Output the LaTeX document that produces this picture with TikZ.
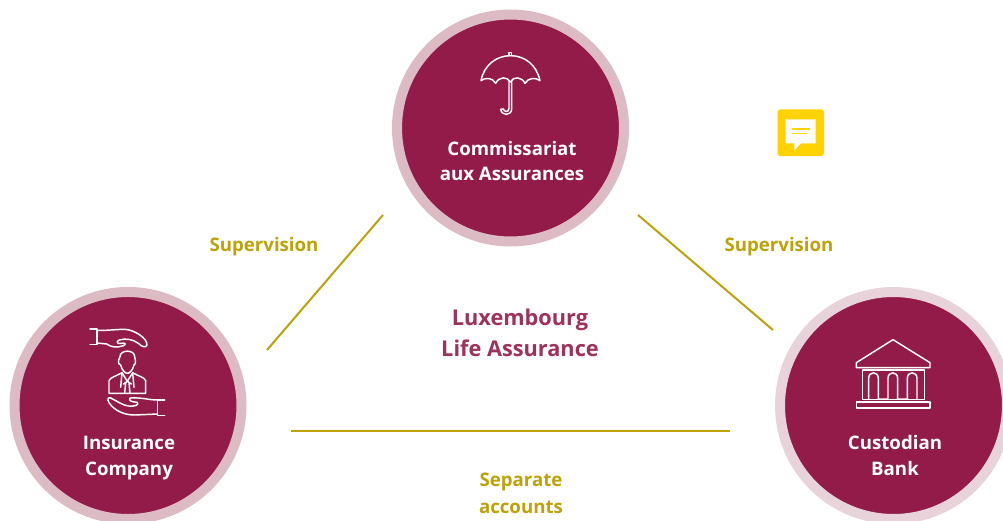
\documentclass[tikz,border=0pt]{standalone}
\usepackage{fontspec}
\setmainfont{Open Sans}
\definecolor{wine}{HTML}{931B4A}
\definecolor{ringa}{HTML}{DDBBC5}
\definecolor{ringb}{HTML}{E9D3DA}
\definecolor{gold}{HTML}{BDA308}
\definecolor{notey}{HTML}{FFD200}
\tikzset{
  disc/.style={circle,fill=wine,draw=#1,line width=7.5pt,minimum size=170.25pt,inner sep=0pt},
  link/.style={draw=gold,line width=1.5pt},
  goldtext/.style={text=gold,font=\fontsize{14}{20}\selectfont\bfseries,align=center},
  disctext/.style={text=white,font=\fontsize{14}{19}\selectfont\bfseries,align=center},
  titletext/.style={text=wine!90!white,font=\fontsize{16.3}{23}\selectfont\bfseries,align=center},
  icon/.style={draw=white,line width=1.1pt,line join=round,line cap=round,fill=none},
}
\begin{document}
\begin{tikzpicture}[x=0.75pt,y=-0.75pt]
\useasboundingbox (0,0) rectangle (1003,521);
\clip (0,0) rectangle (1003,521);
\fill[white] (0,0) rectangle (1003,521);
% discs
\node[disc=ringa] (top) at (510.5,128) {};
\node[disc=ringa] (left) at (128,405.5) {};
\node[disc=ringb] (right) at (893.5,405.5) {};
% connectors
\coordinate (a1) at (383,215); \coordinate (a2) at (267,350);
\coordinate (b1) at (638,215); \coordinate (b2) at (773,330);
\coordinate (c1) at (291,431); \coordinate (c2) at (730,431);
\draw[link] (a1) -- (a2);
\draw[link] (b1) -- (b2);
\draw[link] (c1) -- (c2);
% labels
\node[disctext] (toplabel) at (512,161) {Commissariat\\aux Assurances};
\node[disctext] (leftlabel) at (129,458) {Insurance\\Company};
\node[disctext] (rightlabel) at (895,455.5) {Custodian\\Bank};
\node[goldtext] (sup1) at (264,247) {Supervision};
\node[goldtext] (sup2) at (779,247) {Supervision};
\node[goldtext] (sep) at (521,493.5) {Separate\\accounts};
\node[titletext] (title) at (520,333) {Luxembourg\\Life Assurance};
% note icon
\begin{scope}[shift={(765,100)},x=0.25pt,y=-0.25pt]
\fill[notey,rounded corners=2pt] (38,28) rectangle (177,168);
\fill[white] (62,58) -- (152,58) -- (152,130) -- (108,130) -- (88,151) -- (88,130) -- (62,130) -- cycle;
\draw[notey,line width=.9pt] (80,87) -- (134,87) (80,100) -- (126,100);
\end{scope}
% umbrella icon
\begin{scope}[shift={(460,40)},x=0.25pt,y=-0.25pt]
\draw[icon] (63,122) .. controls (72,75) and (110,47) .. (151,47) .. controls (195,47) and (230,75) .. (240,122)
  .. controls (228,112) and (205,112) .. (195,130) .. controls (186,110) and (160,108) .. (151,126)
  .. controls (142,108) and (116,110) .. (107,130) .. controls (98,112) and (75,112) .. (63,122) -- cycle;
\draw[icon] (147,46) -- (147,37) -- (155,37) -- (155,46);
\draw[icon] (147,124) -- (147,205) .. controls (147,217) and (132,217) .. (130,207);
\draw[icon] (155,124) -- (155,208) .. controls (153,228) and (125,228) .. (122,208) -- (130,207);
\end{scope}
% person and hands icon
\begin{scope}[shift={(60,310)},x=0.25pt,y=-0.25pt]
% upper hand
\draw[icon] (90,57) -- (111,57) -- (111,103) -- (90,103);
\draw[icon] (111,61) .. controls (145,62) and (165,58) .. (195,58) .. controls (225,60) and (262,85) .. (261,105)
  .. controls (258,115) and (245,110) .. (235,100) .. controls (220,88) and (195,84) .. (178,90)
  .. controls (168,94) and (170,102) .. (182,100) .. controls (197,98) and (200,102) .. (190,107)
  .. controls (170,114) and (155,112) .. (140,102) -- (111,99);
% lower hand
\draw[icon] (314,270) -- (293,270) -- (293,316) -- (314,316);
\draw[icon] (293,270) .. controls (265,270) and (250,262) .. (210,264) .. controls (205,272) and (215,276) .. (232,277)
  .. controls (238,285) and (225,290) .. (205,288) .. controls (185,285) and (170,272) .. (150,263)
  .. controls (140,262) and (142,275) .. (155,288) .. controls (175,308) and (200,315) .. (225,315) -- (293,312);
% head
\draw[icon] (180,140) .. controls (180,118) and (224,118) .. (224,140) -- (226,150) .. controls (228,160) and (224,165) .. (222,165)
  .. controls (218,182) and (208,190) .. (202,190) .. controls (196,190) and (186,182) .. (182,165)
  .. controls (178,165) and (174,160) .. (176,150) -- cycle;
% body
\draw[icon] (147,250) -- (147,212) .. controls (150,202) and (170,198) .. (186,188) -- (202,214) -- (218,188)
  .. controls (234,198) and (254,202) .. (257,212) -- (257,250) -- cycle;
\draw[icon] (186,188) -- (182,232) (218,188) -- (222,232);
\draw[icon] (197,218) -- (194,250) (207,218) -- (210,250) (190,222) -- (202,214) -- (214,222);
\end{scope}
% bank icon
\begin{scope}[shift={(840,325)},x=0.25pt,y=-0.25pt]
\draw[icon] (159,44) -- (270,113) -- (270,128) -- (49,128) -- (49,113) -- cycle;
\draw[icon] (67,135) -- (253,135) -- (253,223) -- (67,223) -- cycle;
\draw[icon] (49,231) rectangle (270,249);
\draw[icon] (86,222) -- (86,160) .. controls (86,138) and (115,138) .. (115,160) -- (115,222)
  -- (144,222) -- (144,160) .. controls (144,138) and (173,138) .. (173,160) -- (173,222)
  -- (202,222) -- (202,160) .. controls (202,138) and (231,138) .. (231,160) -- (231,222);
\end{scope}
\end{tikzpicture}
\end{document}
